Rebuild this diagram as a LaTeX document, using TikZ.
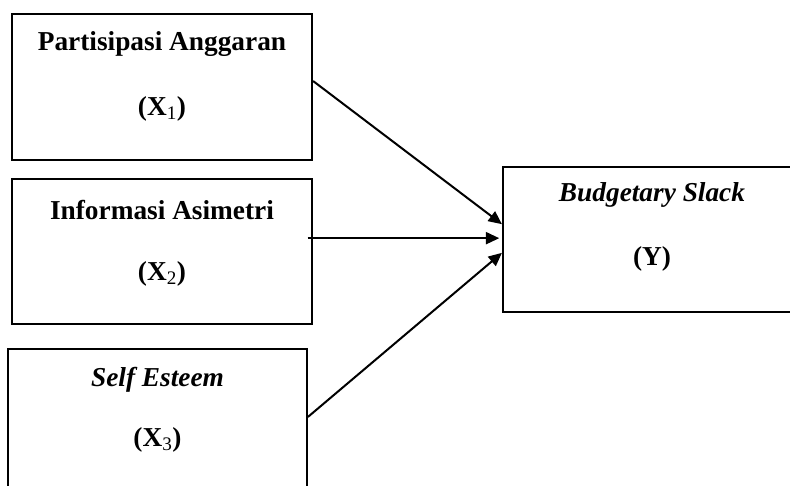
\documentclass[tikz,border=0pt]{standalone}
\usepackage{fontspec}
\setmainfont{Liberation Serif}
\usetikzlibrary{arrows.meta}

\tikzset{
  varbox/.style={draw, line width=1.6pt, minimum width=225pt, minimum height=109pt, inner sep=0pt},
  vartext/.style={font=\fontsize{20.5}{24}\selectfont\bfseries, inner sep=0pt},
  path/.style={line width=1.5pt, -{Triangle[length=10pt,width=9pt]}}
}

\begin{document}
\begin{tikzpicture}[x=0.75pt, y=-0.75pt]
\clip (0, 0) rectangle (790, 486);
% boxes
\node [varbox] (x1) at (162, 87) {};
\node [varbox] (x2) at (162, 251.5) {};
\node [varbox, minimum width=224pt] (x3) at (157.5, 421.5) {};
\node [varbox, minimum width=223.5pt] (y) at (652, 239.5) {};
% labels
\node [vartext] (x1t) at ([yshift=-23pt]x1.north) {Partisipasi Anggaran};
\node [vartext] (x1s) at ([yshift=-72pt]x1.north) {(X\textsubscript{\mdseries 1})};
\node [vartext] (x2t) at ([yshift=-24pt]x2.north) {Informasi Asimetri};
\node [vartext] (x2s) at ([yshift=-72pt]x2.north) {(X\textsubscript{\mdseries 2})};
\node [vartext] (x3t) at ([yshift=-24pt]x3.north) {\itshape Self Esteem};
\node [vartext] (x3s) at ([yshift=-69pt]x3.north) {(X\textsubscript{\mdseries 3})};
\node [vartext] (yt) at ([yshift=-22pt]y.north) {\itshape Budgetary Slack};
\node [vartext] (ys) at ([yshift=-70pt]y.north) {(Y)};
% paths
\draw [path] ([yshift=4.5pt]x1.east) -- ([yshift=11.5pt]y.west);
\draw [path] ([xshift=-4pt, yshift=10pt]x2.east) -- ([xshift=-2pt, yshift=1pt]y.west);
\draw [path] ([yshift=3.4pt]x3.east) -- ([yshift=-10pt]y.west);
\end{tikzpicture}
\end{document}
